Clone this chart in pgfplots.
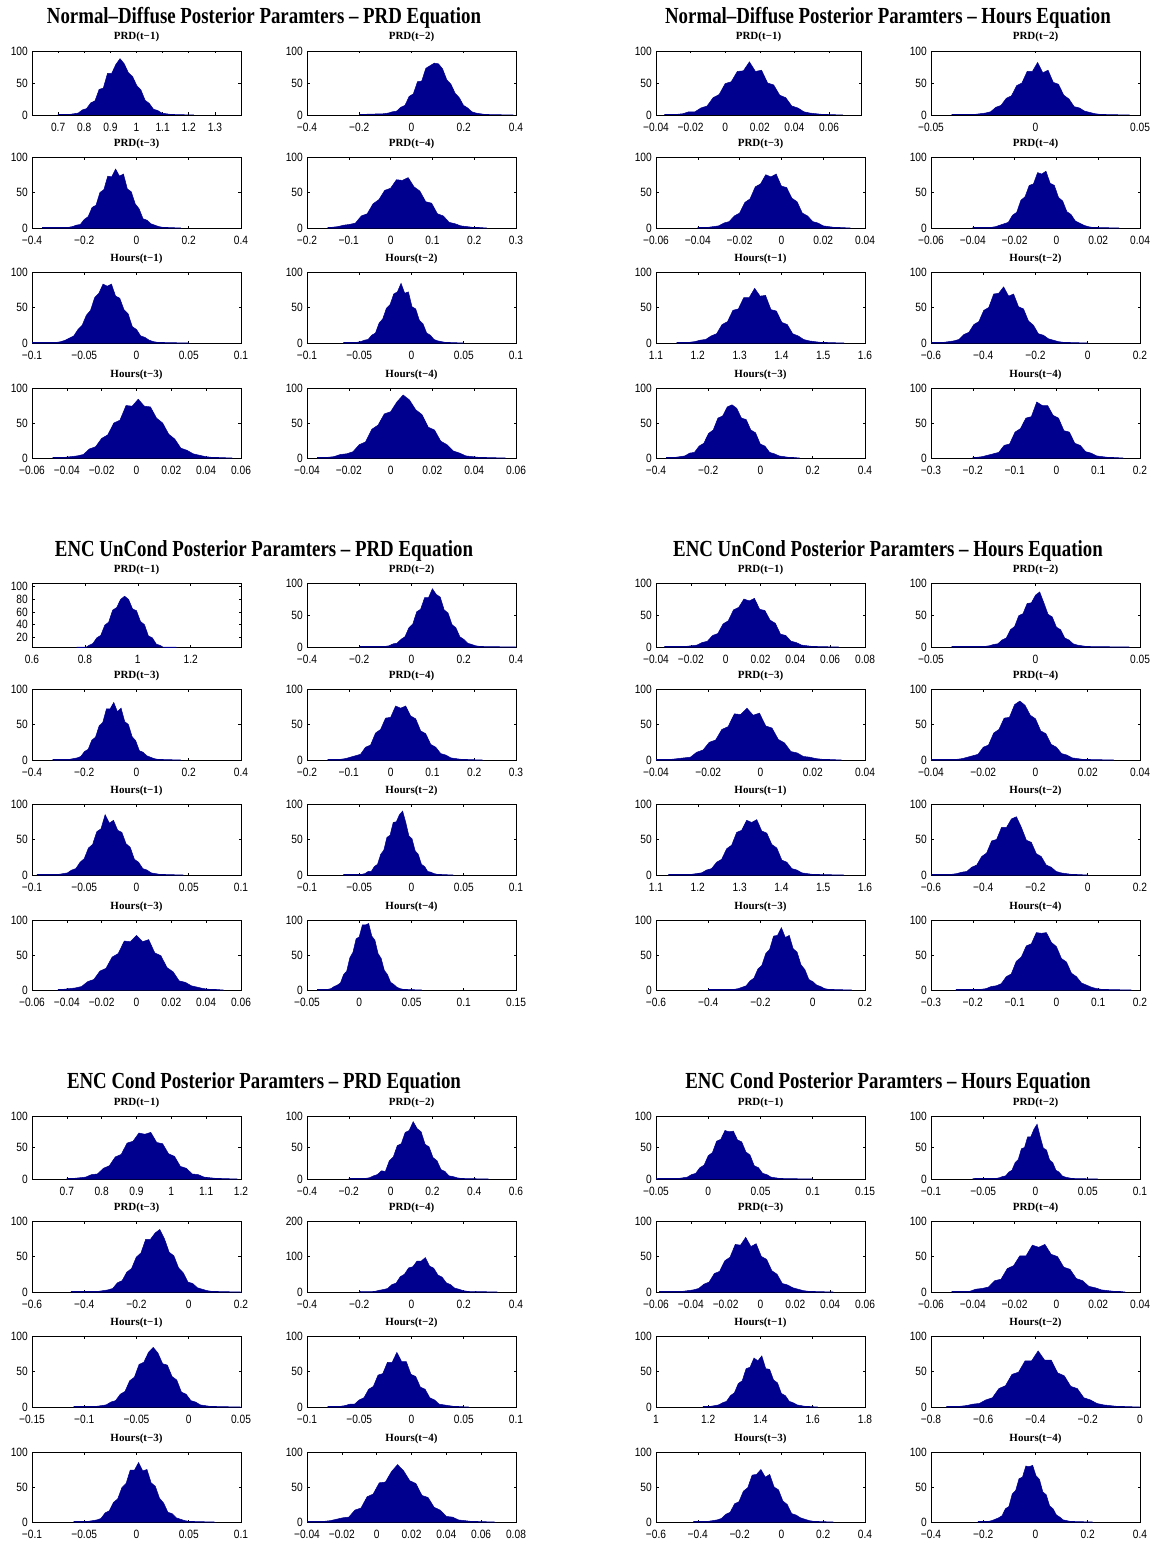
\documentclass[border=0pt]{standalone}
\usepackage{fontspec}
\usepackage{pgfplots}
\pgfplotsset{compat=1.18}
\setmainfont{Liberation Serif}
\newfontfamily\titfam[FakeStretch=0.82]{Liberation Serif}
\newfontfamily\subfam{Liberation Serif}
\newfontfamily\tickfam[FakeStretch=0.85]{Liberation Sans}
\newcommand{\titf}{\titfam\bfseries\fontsize{23}{27}\selectfont}
\newcommand{\subf}{\subfam\bfseries\fontsize{11}{13}\selectfont}
\newcommand{\tickf}{\tickfam\fontsize{12}{14}\selectfont}
\definecolor{hblue}{RGB}{0,0,143}
\pgfplotsset{
  hax/.style={scale only axis, anchor=south west, width=209pt, height=71pt,
    ymin=0, ymax=100, ytick={0,50,100}, yticklabels={0,50,100},
    scaled ticks=false, tick align=inside, major tick length=2.5pt,
    axis line style={line width=0.8pt}, tick style={line width=0.6pt, black},
    xticklabel style={font=\tickf, inner sep=0pt, yshift=-8pt},
    yticklabel style={font=\tickf, inner sep=0pt, xshift=-4pt},
    title style={font=\subf, at={(0.5,1)}, anchor=base, yshift=5pt}},
  hist/.style={sharp plot, fill=hblue, draw=hblue, line width=0.5pt, mark=none},
}
\begin{document}
\begin{tikzpicture}
\useasboundingbox (0pt,0pt) rectangle (1156pt,-1544pt);
% ---------- block titles
\node[anchor=base, font=\titf] at (264pt,-24pt) {Normal–Diffuse Posterior Paramters – PRD Equation};
\node[anchor=base, font=\titf] at (888pt,-24pt) {Normal–Diffuse Posterior Paramters – Hours Equation};
\node[anchor=base, font=\titf] at (264pt,-556pt) {ENC UnCond Posterior Paramters – PRD Equation};
\node[anchor=base, font=\titf] at (888pt,-556pt) {ENC UnCond Posterior Paramters – Hours Equation};
\node[anchor=base, font=\titf] at (264pt,-1088pt) {ENC Cond Posterior Paramters – PRD Equation};
\node[anchor=base, font=\titf] at (888pt,-1088pt) {ENC Cond Posterior Paramters – Hours Equation};

% ================= BLOCK 1 LEFT =================
\begin{axis}[hax, at={(32pt,-115pt)}, height=64pt, xmin=0.6, xmax=1.4,
  xtick={0.7,0.8,0.9,1,1.1,1.2,1.3}, xticklabels={0.7,0.8,0.9,1,1.1,1.2,1.3}, title={PRD(t−1)}]
\addplot[hist] coordinates {(0.70,0.8) (0.745,1) (0.761,2) (0.777,3) (0.793,8) (0.809,10) (0.825,19) (0.841,22) (0.857,40) (0.873,42) (0.889,65) (0.905,65) (0.921,79) (0.937,88) (0.953,80) (0.969,66) (0.985,60) (1.001,46) (1.017,39) (1.033,23) (1.049,18) (1.065,9) (1.081,7) (1.097,3) (1.113,2) (1.129,1) (1.145,0.8) (1.22,0)} \closedcycle;
\end{axis}
\begin{axis}[hax, at={(307pt,-115pt)}, height=64pt, xmin=-0.4, xmax=0.4,
  xtick={-0.4,-0.2,0,0.2,0.4}, xticklabels={−0.4,−0.2,0,0.2,0.4}, title={PRD(t−2)}]
\addplot[hist] coordinates {(-0.2,0.8) (-0.105,2) (-0.089,3) (-0.073,5) (-0.057,6) (-0.041,12) (-0.025,15) (-0.009,29) (0.007,33) (0.023,52) (0.039,53) (0.055,73) (0.071,77) (0.087,81) (0.103,80) (0.119,72) (0.135,55) (0.151,48) (0.167,34) (0.183,27) (0.199,15) (0.215,11) (0.231,5) (0.247,3) (0.263,2) (0.279,1) (0.295,0.8) (0.39,0)} \closedcycle;
\end{axis}
\begin{axis}[hax, at={(32pt,-228pt)}, xmin=-0.4, xmax=0.4,
  xtick={-0.4,-0.2,0,0.2,0.4}, xticklabels={−0.4,−0.2,0,0.2,0.4}, title={PRD(t−3)}]
\addplot[hist] coordinates {(-0.36,0.8) (-0.26,1) (-0.245,2) (-0.23,4) (-0.215,5) (-0.2,12) (-0.185,16) (-0.17,29) (-0.155,32) (-0.14,50) (-0.125,54) (-0.11,73) (-0.095,72) (-0.08,83) (-0.065,73) (-0.05,76) (-0.035,55) (-0.02,51) (-0.005,34) (0.01,27) (0.025,13) (0.04,11) (0.055,6) (0.07,4) (0.085,2) (0.1,1) (0.115,0.8) (0.17,0)} \closedcycle;
\end{axis}
\begin{axis}[hax, at={(307pt,-228pt)}, xmin=-0.2, xmax=0.3,
  xtick={-0.2,-0.1,0,0.1,0.2,0.3}, xticklabels={−0.2,−0.1,0,0.1,0.2,0.3}, title={PRD(t−4)}]
\addplot[hist] coordinates {(-0.15,0.8) (-0.14,1) (-0.126,2) (-0.112,4) (-0.098,5) (-0.084,7) (-0.07,17) (-0.056,20) (-0.042,34) (-0.028,40) (-0.014,53) (0,56) (0.014,68) (0.028,67) (0.042,71) (0.056,58) (0.07,52) (0.084,37) (0.098,35) (0.112,20) (0.126,17) (0.14,8) (0.154,6) (0.168,3) (0.182,2) (0.196,1) (0.21,0.8) (0.23,0)} \closedcycle;
\end{axis}
\begin{axis}[hax, at={(32pt,-343pt)}, xmin=-0.1, xmax=0.1,
  xtick={-0.1,-0.05,0,0.05,0.1}, xticklabels={−0.1,−0.05,0,0.05,0.1}, title={Hours(t−1)}]
\addplot[hist] coordinates {(-0.1,0.8) (-0.076,1) (-0.072,2) (-0.068,4) (-0.064,7) (-0.06,10) (-0.056,19) (-0.052,25) (-0.048,39) (-0.044,46) (-0.04,64) (-0.036,70) (-0.032,83) (-0.028,80) (-0.024,83) (-0.02,66) (-0.016,63) (-0.012,47) (-0.008,41) (-0.004,23) (0,19) (0.004,10) (0.008,8) (0.012,4) (0.016,2) (0.02,1) (0.024,0.8) (0.05,0)} \closedcycle;
\end{axis}
\begin{axis}[hax, at={(307pt,-343pt)}, xmin=-0.1, xmax=0.1,
  xtick={-0.1,-0.05,0,0.05,0.1}, xticklabels={−0.1,−0.05,0,0.05,0.1}, title={Hours(t−2)}]
\addplot[hist] coordinates {(-0.065,0.8) (-0.052,1) (-0.0485,2) (-0.045,4) (-0.0415,5) (-0.038,11) (-0.0345,14) (-0.031,28) (-0.0275,34) (-0.024,49) (-0.0205,54) (-0.017,69) (-0.0135,72) (-0.01,84) (-0.0065,70) (-0.003,72) (0.0005,51) (0.004,48) (0.0075,32) (0.011,27) (0.0145,14) (0.018,11) (0.0215,5) (0.025,3) (0.0285,2) (0.032,1) (0.0355,0.8) (0.05,0)} \closedcycle;
\end{axis}
\begin{axis}[hax, at={(32pt,-458pt)}, height=70pt, xmin=-0.06, xmax=0.06,
  xtick={-0.06,-0.04,-0.02,0,0.02,0.04,0.06}, xticklabels={−0.06,−0.04,−0.02,0,0.02,0.04,0.06}, title={Hours(t−3)}]
\addplot[hist] coordinates {(-0.048,0.8) (-0.041,1) (-0.0375,2) (-0.034,3) (-0.0305,5) (-0.027,13) (-0.0235,16) (-0.02,28) (-0.0165,33) (-0.013,50) (-0.0095,54) (-0.006,75) (-0.0025,74) (0.001,84) (0.0045,74) (0.008,73) (0.0115,57) (0.015,50) (0.0185,34) (0.022,27) (0.0255,14) (0.029,11) (0.0325,6) (0.036,4) (0.0395,2) (0.043,1) (0.0465,0.8) (0.055,0)} \closedcycle;
\end{axis}
\begin{axis}[hax, at={(307pt,-458pt)}, height=70pt, xmin=-0.04, xmax=0.06,
  xtick={-0.04,-0.02,0,0.02,0.04,0.06}, xticklabels={−0.04,−0.02,0,0.02,0.04,0.06}, title={Hours(t−4)}]
\addplot[hist] coordinates {(-0.035,0.8) (-0.03,1) (-0.027,2) (-0.024,5) (-0.021,6) (-0.018,9) (-0.015,19) (-0.012,23) (-0.009,41) (-0.006,47) (-0.003,63) (0,66) (0.003,80) (0.006,90) (0.009,83) (0.012,69) (0.015,62) (0.018,44) (0.021,40) (0.024,24) (0.027,19) (0.03,10) (0.033,7) (0.036,3) (0.039,2) (0.042,1) (0.045,0.8) (0.055,0)} \closedcycle;
\end{axis}

% ================= BLOCK 1 RIGHT =================
\begin{axis}[hax, at={(656pt,-115pt)}, height=64pt, width=205pt, xmin=-0.04, xmax=0.0785,
  xtick={-0.04,-0.02,0,0.02,0.04,0.06}, xticklabels={−0.04,−0.02,0,0.02,0.04,0.06}, title={PRD(t−1)}]
\addplot[hist] coordinates {(-0.035,0.8) (-0.028,1) (-0.0245,2) (-0.021,5) (-0.0175,5) (-0.014,11) (-0.0105,14) (-0.007,27) (-0.0035,32) (0,49) (0.0035,52) (0.007,68) (0.0105,69) (0.014,83) (0.0175,68) (0.021,70) (0.0245,50) (0.028,47) (0.0315,31) (0.035,27) (0.0385,14) (0.042,11) (0.0455,5) (0.049,3) (0.0525,2) (0.056,1) (0.0595,0.8) (0.068,0)} \closedcycle;
\end{axis}
\begin{axis}[hax, at={(931pt,-115pt)}, height=64pt, xmin=-0.05, xmax=0.05,
  xtick={-0.05,0,0.05}, xticklabels={−0.05,0,0.05}, title={PRD(t−2)}]
\addplot[hist] coordinates {(-0.04,0.8) (-0.029,1) (-0.0265,2) (-0.024,3) (-0.0215,5) (-0.019,12) (-0.0165,15) (-0.014,26) (-0.0115,30) (-0.009,46) (-0.0065,50) (-0.004,68) (-0.0015,68) (0.001,82) (0.0035,66) (0.006,70) (0.0085,51) (0.011,48) (0.0135,31) (0.016,25) (0.0185,13) (0.021,11) (0.0235,6) (0.026,4) (0.0285,2) (0.031,1) (0.0335,0.8) (0.045,0)} \closedcycle;
\end{axis}
\begin{axis}[hax, at={(656pt,-228pt)}, xmin=-0.06, xmax=0.04,
  xtick={-0.06,-0.04,-0.02,0,0.02,0.04}, xticklabels={−0.06,−0.04,−0.02,0,0.02,0.04}, title={PRD(t−3)}]
\addplot[hist] coordinates {(-0.04,0.8) (-0.035,1) (-0.0325,2) (-0.03,3) (-0.0275,7) (-0.025,9) (-0.0225,17) (-0.02,21) (-0.0175,36) (-0.015,41) (-0.0125,58) (-0.01,62) (-0.0075,75) (-0.005,72) (-0.0025,76) (0,59) (0.0025,57) (0.005,42) (0.0075,37) (0.01,21) (0.0125,17) (0.015,9) (0.0175,7) (0.02,3) (0.0225,2) (0.025,1) (0.0275,0.8) (0.033,0)} \closedcycle;
\end{axis}
\begin{axis}[hax, at={(931pt,-228pt)}, xmin=-0.06, xmax=0.04,
  xtick={-0.06,-0.04,-0.02,0,0.02,0.04}, xticklabels={−0.06,−0.04,−0.02,0,0.02,0.04}, title={PRD(t−4)}]
\addplot[hist] coordinates {(-0.04,0.8) (-0.031,1) (-0.029,2) (-0.027,4) (-0.025,6) (-0.023,8) (-0.021,18) (-0.019,22) (-0.017,39) (-0.015,44) (-0.013,60) (-0.011,62) (-0.009,78) (-0.007,76) (-0.005,80) (-0.003,63) (-0.001,60) (0.001,43) (0.003,38) (0.005,23) (0.007,19) (0.009,10) (0.011,7) (0.013,4) (0.015,2) (0.017,1) (0.019,0.8) (0.03,0)} \closedcycle;
\end{axis}
\begin{axis}[hax, at={(656pt,-343pt)}, xmin=1.1, xmax=1.6,
  xtick={1.1,1.2,1.3,1.4,1.5,1.6}, xticklabels={1.1,1.2,1.3,1.4,1.5,1.6}, title={Hours(t−1)}]
\addplot[hist] coordinates {(1.15,0.8) (1.18,1) (1.193,2) (1.206,4) (1.219,5) (1.232,10) (1.245,13) (1.258,26) (1.271,30) (1.284,46) (1.297,48) (1.31,64) (1.323,64) (1.336,77) (1.349,66) (1.362,67) (1.375,47) (1.388,45) (1.401,29) (1.414,26) (1.427,13) (1.44,10) (1.453,5) (1.466,3) (1.479,2) (1.492,1) (1.505,0.8) (1.55,0)} \closedcycle;
\end{axis}
\begin{axis}[hax, at={(931pt,-343pt)}, xmin=-0.6, xmax=0.2,
  xtick={-0.6,-0.4,-0.2,0,0.2}, xticklabels={−0.6,−0.4,−0.2,0,0.2}, title={Hours(t−2)}]
\addplot[hist] coordinates {(-0.6,0.8) (-0.55,1) (-0.531,2) (-0.512,3) (-0.493,5) (-0.474,12) (-0.455,15) (-0.436,26) (-0.417,30) (-0.398,46) (-0.379,50) (-0.36,69) (-0.341,70) (-0.322,79) (-0.303,66) (-0.284,69) (-0.265,51) (-0.246,48) (-0.227,31) (-0.208,25) (-0.189,13) (-0.17,11) (-0.151,6) (-0.132,4) (-0.113,2) (-0.094,1) (-0.075,0.8) (0,0)} \closedcycle;
\end{axis}
\begin{axis}[hax, at={(656pt,-458pt)}, height=70pt, xmin=-0.4, xmax=0.4,
  xtick={-0.4,-0.2,0,0.2,0.4}, xticklabels={−0.4,−0.2,0,0.2,0.4}, title={Hours(t−3)}]
\addplot[hist] coordinates {(-0.36,0.8) (-0.325,1) (-0.307,2) (-0.289,3) (-0.271,7) (-0.253,8) (-0.235,17) (-0.217,21) (-0.199,35) (-0.181,40) (-0.163,57) (-0.145,60) (-0.127,73) (-0.109,76) (-0.091,71) (-0.073,57) (-0.055,55) (-0.037,40) (-0.019,36) (-0.001,20) (0.017,17) (0.035,8) (0.053,6) (0.071,3) (0.089,2) (0.107,1) (0.125,0.8) (0.15,0)} \closedcycle;
\end{axis}
\begin{axis}[hax, at={(931pt,-458pt)}, height=70pt, xmin=-0.3, xmax=0.2,
  xtick={-0.3,-0.2,-0.1,0,0.1,0.2}, xticklabels={−0.3,−0.2,−0.1,0,0.1,0.2}, title={Hours(t−4)}]
\addplot[hist] coordinates {(-0.2,0.8) (-0.19,1) (-0.177,2) (-0.164,4) (-0.151,6) (-0.138,8) (-0.125,18) (-0.112,20) (-0.099,37) (-0.086,42) (-0.073,57) (-0.06,59) (-0.047,80) (-0.034,75) (-0.021,75) (-0.008,61) (0.005,57) (0.018,39) (0.031,37) (0.044,21) (0.057,18) (0.07,9) (0.083,7) (0.096,3) (0.109,2) (0.122,1) (0.135,0.8) (0.16,0)} \closedcycle;
\end{axis}

% ================= BLOCK 2 LEFT =================
\begin{axis}[hax, at={(32pt,-647pt)}, height=64pt, xmin=0.6, xmax=1.39, ymin=4.5, ymax=106,
  ytick={20,40,60,80,100}, yticklabels={20,40,60,80,100},
  xtick={0.6,0.8,1,1.2}, xticklabels={0.6,0.8,1,1.2}, title={PRD(t−1)}]
\addplot[hist] coordinates {(0.77,1) (0.785,2) (0.8,3) (0.815,7) (0.83,10) (0.845,19) (0.86,23) (0.875,39) (0.89,44) (0.905,63) (0.92,67) (0.935,80) (0.95,85) (0.965,80) (0.98,65) (0.995,62) (1.01,45) (1.025,40) (1.04,22) (1.055,19) (1.07,9) (1.085,7) (1.1,3) (1.115,2) (1.13,1) (1.145,0)} \closedcycle;
\end{axis}
\begin{axis}[hax, at={(307pt,-647pt)}, height=64pt, xmin=-0.4, xmax=0.4,
  xtick={-0.4,-0.2,0,0.2,0.4}, xticklabels={−0.4,−0.2,0,0.2,0.4}, title={PRD(t−2)}]
\addplot[hist] coordinates {(-0.2,0.8) (-0.1,1) (-0.085,2) (-0.07,5) (-0.055,6) (-0.04,12) (-0.025,16) (-0.01,30) (0.005,36) (0.02,55) (0.035,59) (0.05,77) (0.065,77) (0.08,91) (0.095,82) (0.11,78) (0.125,58) (0.14,53) (0.155,35) (0.17,30) (0.185,16) (0.2,12) (0.215,6) (0.23,4) (0.245,2) (0.26,1) (0.275,0.8) (0.4,0)} \closedcycle;
\end{axis}
\begin{axis}[hax, at={(32pt,-760pt)}, xmin=-0.4, xmax=0.4,
  xtick={-0.4,-0.2,0,0.2,0.4}, xticklabels={−0.4,−0.2,0,0.2,0.4}, title={PRD(t−3)}]
\addplot[hist] coordinates {(-0.32,0.8) (-0.255,1) (-0.241,2) (-0.227,3) (-0.213,5) (-0.199,12) (-0.185,15) (-0.171,28) (-0.157,32) (-0.143,48) (-0.129,53) (-0.115,72) (-0.101,72) (-0.087,81) (-0.073,68) (-0.059,73) (-0.045,54) (-0.031,50) (-0.017,33) (-0.003,27) (0.011,13) (0.025,11) (0.039,6) (0.053,4) (0.067,2) (0.081,1) (0.095,0.8) (0.17,0)} \closedcycle;
\end{axis}
\begin{axis}[hax, at={(307pt,-760pt)}, xmin=-0.2, xmax=0.3,
  xtick={-0.2,-0.1,0,0.1,0.2,0.3}, xticklabels={−0.2,−0.1,0,0.1,0.2,0.3}, title={PRD(t−4)}]
\addplot[hist] coordinates {(-0.15,0.8) (-0.12,1) (-0.108,2) (-0.096,4) (-0.084,6) (-0.072,8) (-0.06,18) (-0.048,21) (-0.036,38) (-0.024,43) (-0.012,59) (0,60) (0.012,76) (0.024,73) (0.036,76) (0.048,62) (0.06,58) (0.072,41) (0.084,37) (0.096,22) (0.108,18) (0.12,9) (0.132,7) (0.144,3) (0.156,2) (0.168,1) (0.18,0.8) (0.22,0)} \closedcycle;
\end{axis}
\begin{axis}[hax, at={(32pt,-875pt)}, xmin=-0.1, xmax=0.1,
  xtick={-0.1,-0.05,0,0.05,0.1}, xticklabels={−0.1,−0.05,0,0.05,0.1}, title={Hours(t−1)}]
\addplot[hist] coordinates {(-0.095,0.8) (-0.074,1) (-0.07,2) (-0.066,3) (-0.062,7) (-0.058,9) (-0.054,18) (-0.05,23) (-0.046,38) (-0.042,43) (-0.038,61) (-0.034,65) (-0.03,85) (-0.026,73) (-0.022,77) (-0.018,63) (-0.014,60) (-0.01,44) (-0.006,39) (-0.002,22) (0.002,18) (0.006,9) (0.01,7) (0.014,3) (0.018,2) (0.022,1) (0.026,0.8) (0.045,0)} \closedcycle;
\end{axis}
\begin{axis}[hax, at={(307pt,-875pt)}, xmin=-0.1, xmax=0.1,
  xtick={-0.1,-0.05,0,0.05,0.1}, xticklabels={−0.1,−0.05,0,0.05,0.1}, title={Hours(t−2)}]
\addplot[hist] coordinates {(-0.065,0.8) (-0.0475,1) (-0.0445,2) (-0.0415,5) (-0.0385,5) (-0.0355,12) (-0.0325,15) (-0.0295,29) (-0.0265,35) (-0.0235,53) (-0.0205,56) (-0.0175,74) (-0.0145,75) (-0.0115,85) (-0.0085,90) (-0.0055,74) (-0.0025,55) (0.0005,51) (0.0035,34) (0.0065,29) (0.0095,15) (0.0125,12) (0.0155,5) (0.0185,4) (0.0215,2) (0.0245,1) (0.0275,0.8) (0.04,0)} \closedcycle;
\end{axis}
\begin{axis}[hax, at={(32pt,-990pt)}, height=70pt, xmin=-0.06, xmax=0.06,
  xtick={-0.06,-0.04,-0.02,0,0.02,0.04,0.06}, xticklabels={−0.06,−0.04,−0.02,0,0.02,0.04,0.06}, title={Hours(t−3)}]
\addplot[hist] coordinates {(-0.045,0.8) (-0.042,1) (-0.0385,2) (-0.035,3) (-0.0315,5) (-0.028,12) (-0.0245,15) (-0.021,27) (-0.0175,31) (-0.014,47) (-0.0105,52) (-0.007,70) (-0.0035,69) (0,78) (0.0035,69) (0.007,72) (0.0105,53) (0.014,49) (0.0175,32) (0.021,26) (0.0245,13) (0.028,11) (0.0315,6) (0.035,4) (0.0385,2) (0.042,1) (0.0455,0.8) (0.05,0)} \closedcycle;
\end{axis}
\begin{axis}[hax, at={(307pt,-990pt)}, height=70pt, xmin=-0.05, xmax=0.15,
  xtick={-0.05,0,0.05,0.1,0.15}, xticklabels={−0.05,0,0.05,0.1,0.15}, title={Hours(t−4)}]
\addplot[hist] coordinates {(-0.04,0.8) (-0.03,1) (-0.027,2) (-0.024,5) (-0.021,7) (-0.018,10) (-0.015,22) (-0.012,27) (-0.009,46) (-0.006,54) (-0.003,73) (0,76) (0.003,93) (0.006,93) (0.009,95) (0.012,77) (0.015,71) (0.018,52) (0.021,45) (0.024,28) (0.027,22) (0.03,11) (0.033,8) (0.036,4) (0.039,2) (0.042,1) (0.045,0.8) (0.06,0)} \closedcycle;
\end{axis}

% ================= BLOCK 2 RIGHT =================
\begin{axis}[hax, at={(656pt,-647pt)}, height=64pt, xmin=-0.04, xmax=0.08,
  xtick={-0.04,-0.02,0,0.02,0.04,0.06,0.08}, xticklabels={−0.04,−0.02,0,0.02,0.04,0.06,0.08}, title={PRD(t−1)}]
\addplot[hist] coordinates {(-0.035,0.8) (-0.0225,1) (-0.0195,2) (-0.0165,3) (-0.0135,7) (-0.0105,9) (-0.0075,18) (-0.0045,21) (-0.0015,36) (0.0015,41) (0.0045,58) (0.0075,62) (0.0105,75) (0.0135,72) (0.0165,76) (0.0195,59) (0.0225,57) (0.0255,42) (0.0285,37) (0.0315,20) (0.0345,18) (0.0375,9) (0.0405,7) (0.0435,3) (0.0465,2) (0.0495,1) (0.0525,0.8) (0.065,0)} \closedcycle;
\end{axis}
\begin{axis}[hax, at={(931pt,-647pt)}, height=64pt, xmin=-0.05, xmax=0.05,
  xtick={-0.05,0,0.05}, xticklabels={−0.05,0,0.05}, title={PRD(t−2)}]
\addplot[hist] coordinates {(-0.04,0.8) (-0.024,1) (-0.022,2) (-0.02,4) (-0.018,5) (-0.016,11) (-0.014,14) (-0.012,27) (-0.01,32) (-0.008,49) (-0.006,52) (-0.004,68) (-0.002,69) (0,81) (0.002,86) (0.004,69) (0.006,51) (0.008,47) (0.01,31) (0.012,27) (0.014,14) (0.016,11) (0.018,5) (0.02,3) (0.022,2) (0.024,1) (0.026,0.8) (0.045,0)} \closedcycle;
\end{axis}
\begin{axis}[hax, at={(656pt,-760pt)}, xmin=-0.04, xmax=0.04,
  xtick={-0.04,-0.02,0,0.02,0.04}, xticklabels={−0.04,−0.02,0,0.02,0.04}, title={PRD(t−3)}]
\addplot[hist] coordinates {(-0.04,0.8) (-0.034,1) (-0.0316,2) (-0.0292,3) (-0.0268,4) (-0.0244,11) (-0.022,14) (-0.0196,25) (-0.0172,28) (-0.0148,43) (-0.0124,47) (-0.01,65) (-0.0076,64) (-0.0052,73) (-0.0028,63) (-0.0004,66) (0.002,48) (0.0044,45) (0.0068,29) (0.0092,24) (0.0116,12) (0.014,10) (0.0164,5) (0.0188,4) (0.0212,2) (0.0236,1) (0.026,0.8) (0.031,0)} \closedcycle;
\end{axis}
\begin{axis}[hax, at={(931pt,-760pt)}, xmin=-0.04, xmax=0.04,
  xtick={-0.04,-0.02,0,0.02,0.04}, xticklabels={−0.04,−0.02,0,0.02,0.04}, title={PRD(t−4)}]
\addplot[hist] coordinates {(-0.04,0.8) (-0.03,1) (-0.028,2) (-0.026,4) (-0.024,6) (-0.022,8) (-0.02,18) (-0.018,21) (-0.016,38) (-0.014,43) (-0.012,59) (-0.01,60) (-0.008,78) (-0.006,83) (-0.004,77) (-0.002,63) (0,58) (0.002,41) (0.004,37) (0.006,22) (0.008,18) (0.01,9) (0.012,7) (0.014,3) (0.016,2) (0.018,1) (0.02,0.8) (0.03,0)} \closedcycle;
\end{axis}
\begin{axis}[hax, at={(656pt,-875pt)}, xmin=1.1, xmax=1.6,
  xtick={1.1,1.2,1.3,1.4,1.5,1.6}, xticklabels={1.1,1.2,1.3,1.4,1.5,1.6}, title={Hours(t−1)}]
\addplot[hist] coordinates {(1.13,0.8) (1.185,1) (1.197,2) (1.209,3) (1.221,7) (1.233,9) (1.245,18) (1.257,22) (1.269,37) (1.281,42) (1.293,60) (1.305,63) (1.317,77) (1.329,74) (1.341,78) (1.353,62) (1.365,59) (1.377,43) (1.389,38) (1.401,21) (1.413,18) (1.425,9) (1.437,7) (1.449,3) (1.461,2) (1.473,1) (1.485,0.8) (1.55,0)} \closedcycle;
\end{axis}
\begin{axis}[hax, at={(931pt,-875pt)}, xmin=-0.6, xmax=0.2,
  xtick={-0.6,-0.4,-0.2,0,0.2}, xticklabels={−0.6,−0.4,−0.2,0,0.2}, title={Hours(t−2)}]
\addplot[hist] coordinates {(-0.6,0.8) (-0.52,1) (-0.501,2) (-0.482,4) (-0.463,5) (-0.444,11) (-0.425,14) (-0.406,26) (-0.387,31) (-0.368,48) (-0.349,50) (-0.33,67) (-0.311,67) (-0.292,79) (-0.273,82) (-0.254,67) (-0.235,49) (-0.216,46) (-0.197,30) (-0.178,26) (-0.159,14) (-0.14,11) (-0.121,5) (-0.102,3) (-0.083,2) (-0.064,1) (-0.045,0.8) (0,0)} \closedcycle;
\end{axis}
\begin{axis}[hax, at={(656pt,-990pt)}, height=70pt, xmin=-0.6, xmax=0.2,
  xtick={-0.6,-0.4,-0.2,0,0.2}, xticklabels={−0.6,−0.4,−0.2,0,0.2}, title={Hours(t−3)}]
\addplot[hist] coordinates {(-0.4,0.8) (-0.3,1) (-0.285,2) (-0.27,4) (-0.255,6) (-0.24,13) (-0.225,17) (-0.21,30) (-0.195,35) (-0.18,52) (-0.165,58) (-0.15,77) (-0.135,78) (-0.12,89) (-0.105,75) (-0.09,78) (-0.075,59) (-0.06,54) (-0.045,36) (-0.03,29) (-0.015,15) (0,12) (0.015,7) (0.03,5) (0.045,2) (0.06,1) (0.075,0.8) (0.15,0)} \closedcycle;
\end{axis}
\begin{axis}[hax, at={(931pt,-990pt)}, height=70pt, xmin=-0.3, xmax=0.2,
  xtick={-0.3,-0.2,-0.1,0,0.1,0.2}, xticklabels={−0.3,−0.2,−0.1,0,0.1,0.2}, title={Hours(t−4)}]
\addplot[hist] coordinates {(-0.24,0.8) (-0.18,1) (-0.168,2) (-0.156,5) (-0.144,6) (-0.132,9) (-0.12,19) (-0.108,23) (-0.096,41) (-0.084,47) (-0.072,63) (-0.06,66) (-0.048,82) (-0.036,81) (-0.024,82) (-0.012,68) (0,62) (0.012,45) (0.024,40) (0.036,24) (0.048,19) (0.06,10) (0.072,7) (0.084,4) (0.096,2) (0.108,1) (0.12,0.8) (0.18,0)} \closedcycle;
\end{axis}

% ================= BLOCK 3 LEFT =================
\begin{axis}[hax, at={(32pt,-1179pt)}, height=63pt, xmin=0.6, xmax=1.2,
  xtick={0.7,0.8,0.9,1,1.1,1.2}, xticklabels={0.7,0.8,0.9,1,1.1,1.2}, title={PRD(t−1)}]
\addplot[hist] coordinates {(0.7,0.8) (0.72,1) (0.737,2) (0.754,3) (0.771,7) (0.788,8) (0.805,17) (0.822,21) (0.839,35) (0.856,39) (0.873,57) (0.89,60) (0.907,73) (0.924,71) (0.941,74) (0.958,58) (0.975,56) (0.992,40) (1.009,36) (1.026,20) (1.043,17) (1.06,8) (1.077,7) (1.094,3) (1.111,2) (1.128,1) (1.145,0.8) (1.19,0)} \closedcycle;
\end{axis}
\begin{axis}[hax, at={(307pt,-1179pt)}, height=63pt, xmin=-0.4, xmax=0.6,
  xtick={-0.4,-0.2,0,0.2,0.4,0.6}, xticklabels={−0.4,−0.2,0,0.2,0.4,0.6}, title={PRD(t−2)}]
\addplot[hist] coordinates {(-0.2,0.8) (-0.12,1) (-0.101,2) (-0.082,5) (-0.063,7) (-0.044,13) (-0.025,12) (-0.006,29) (0.013,35) (0.032,53) (0.051,56) (0.07,74) (0.089,77) (0.108,91) (0.127,80) (0.146,75) (0.165,55) (0.184,51) (0.203,34) (0.222,29) (0.241,15) (0.26,12) (0.279,5) (0.298,4) (0.317,2) (0.336,1) (0.355,0.8) (0.47,0)} \closedcycle;
\end{axis}
\begin{axis}[hax, at={(32pt,-1292pt)}, xmin=-0.6, xmax=0.2,
  xtick={-0.6,-0.4,-0.2,0,0.2}, xticklabels={−0.6,−0.4,−0.2,0,0.2}, title={PRD(t−3)}]
\addplot[hist] coordinates {(-0.45,0.8) (-0.345,1) (-0.327,2) (-0.309,3) (-0.291,5) (-0.273,13) (-0.255,16) (-0.237,28) (-0.219,33) (-0.201,49) (-0.183,55) (-0.165,74) (-0.147,74) (-0.129,83) (-0.111,88) (-0.093,75) (-0.075,56) (-0.057,51) (-0.039,34) (-0.021,27) (-0.003,14) (0.015,12) (0.033,6) (0.051,4) (0.069,2) (0.087,1) (0.105,0.8) (0.2,0)} \closedcycle;
\end{axis}
\begin{axis}[hax, at={(307pt,-1292pt)}, xmin=-0.4, xmax=0.4, ymax=200,
  ytick={0,100,200}, yticklabels={0,100,200},
  xtick={-0.4,-0.2,0,0.2,0.4}, xticklabels={−0.4,−0.2,0,0.2,0.4}, title={PRD(t−4)}]
\addplot[hist] coordinates {(-0.2,1.5) (-0.155,1) (-0.139,2) (-0.123,5) (-0.107,7) (-0.091,10) (-0.075,21) (-0.059,25) (-0.043,43) (-0.027,50) (-0.011,68) (0.005,71) (0.021,87) (0.037,87) (0.053,97) (0.069,73) (0.085,67) (0.101,48) (0.117,42) (0.133,26) (0.149,21) (0.165,11) (0.181,8) (0.197,4) (0.213,2) (0.229,1) (0.245,1.5) (0.33,0)} \closedcycle;
\end{axis}
\begin{axis}[hax, at={(32pt,-1407pt)}, xmin=-0.15, xmax=0.05,
  xtick={-0.15,-0.1,-0.05,0,0.05}, xticklabels={−0.15,−0.1,−0.05,0,0.05}, title={Hours(t−1)}]
\addplot[hist] coordinates {(-0.11,0.8) (-0.088,1) (-0.0835,2) (-0.079,3) (-0.0745,7) (-0.07,9) (-0.0655,18) (-0.061,22) (-0.0565,37) (-0.052,42) (-0.0475,60) (-0.043,63) (-0.0385,77) (-0.034,84) (-0.0295,76) (-0.025,61) (-0.0205,59) (-0.016,43) (-0.0115,38) (-0.007,21) (-0.0025,18) (0.002,9) (0.0065,7) (0.011,3) (0.0155,2) (0.02,1) (0.0245,0.8) (0.05,0)} \closedcycle;
\end{axis}
\begin{axis}[hax, at={(307pt,-1407pt)}, xmin=-0.1, xmax=0.1,
  xtick={-0.1,-0.05,0,0.05,0.1}, xticklabels={−0.1,−0.05,0,0.05,0.1}, title={Hours(t−2)}]
\addplot[hist] coordinates {(-0.08,0.8) (-0.068,1) (-0.0635,2) (-0.059,4) (-0.0545,4) (-0.05,10) (-0.0455,13) (-0.041,25) (-0.0365,29) (-0.032,45) (-0.0275,47) (-0.023,63) (-0.0185,63) (-0.014,77) (-0.0095,64) (-0.005,64) (-0.0005,46) (0.004,43) (0.0085,28) (0.013,25) (0.0175,13) (0.022,10) (0.0265,4) (0.031,3) (0.0355,2) (0.04,1) (0.0445,0.8) (0.055,0)} \closedcycle;
\end{axis}
\begin{axis}[hax, at={(32pt,-1522pt)}, height=70pt, xmin=-0.1, xmax=0.1,
  xtick={-0.1,-0.05,0,0.05,0.1}, xticklabels={−0.1,−0.05,0,0.05,0.1}, title={Hours(t−3)}]
\addplot[hist] coordinates {(-0.06,0.8) (-0.046,1) (-0.042,2) (-0.038,3) (-0.034,5) (-0.03,13) (-0.026,16) (-0.022,28) (-0.018,33) (-0.014,49) (-0.01,55) (-0.006,74) (-0.002,74) (0.002,85) (0.006,73) (0.01,75) (0.014,56) (0.018,51) (0.022,34) (0.026,27) (0.03,14) (0.034,12) (0.038,6) (0.042,4) (0.046,2) (0.05,1) (0.054,0.8) (0.075,0)} \closedcycle;
\end{axis}
\begin{axis}[hax, at={(307pt,-1522pt)}, height=70pt, xmin=-0.04, xmax=0.08,
  xtick={-0.04,-0.02,0,0.02,0.04,0.06,0.08}, xticklabels={−0.04,−0.02,0,0.02,0.04,0.06,0.08}, title={Hours(t−4)}]
\addplot[hist] coordinates {(-0.04,0.8) (-0.03,1) (-0.0265,2) (-0.023,4) (-0.0195,6) (-0.016,7) (-0.0125,17) (-0.009,20) (-0.0055,36) (-0.002,40) (0.0015,56) (0.005,57) (0.0085,72) (0.012,82) (0.0155,73) (0.019,59) (0.0225,55) (0.026,38) (0.0295,35) (0.033,21) (0.0365,17) (0.04,8) (0.0435,7) (0.047,3) (0.0505,2) (0.054,1) (0.0575,0.8) (0.068,0)} \closedcycle;
\end{axis}

% ================= BLOCK 3 RIGHT =================
\begin{axis}[hax, at={(656pt,-1179pt)}, height=63pt, xmin=-0.05, xmax=0.15,
  xtick={-0.05,0,0.05,0.1,0.15}, xticklabels={−0.05,0,0.05,0.1,0.15}, title={PRD(t−1)}]
\addplot[hist] coordinates {(-0.05,0.8) (-0.028,1) (-0.024,2) (-0.02,3) (-0.016,7) (-0.012,9) (-0.008,18) (-0.004,22) (0,37) (0.004,42) (0.008,60) (0.012,63) (0.016,77) (0.02,75) (0.024,76) (0.028,62) (0.032,59) (0.036,43) (0.04,38) (0.044,21) (0.048,18) (0.052,9) (0.056,7) (0.06,3) (0.064,2) (0.068,1) (0.072,0.8) (0.1,0)} \closedcycle;
\end{axis}
\begin{axis}[hax, at={(931pt,-1179pt)}, height=63pt, xmin=-0.1, xmax=0.1,
  xtick={-0.1,-0.05,0,0.05,0.1}, xticklabels={−0.1,−0.05,0,0.05,0.1}, title={PRD(t−2)}]
\addplot[hist] coordinates {(-0.06,0.8) (-0.0375,1) (-0.0345,2) (-0.0315,4) (-0.0285,5) (-0.0255,11) (-0.0225,14) (-0.0195,26) (-0.0165,31) (-0.0135,48) (-0.0105,50) (-0.0075,67) (-0.0045,67) (-0.0015,79) (0.0015,87) (0.0045,67) (0.0075,49) (0.0105,46) (0.0135,30) (0.0165,26) (0.0195,14) (0.0225,11) (0.0255,5) (0.0285,3) (0.0315,2) (0.0345,1) (0.0375,0.8) (0.06,0)} \closedcycle;
\end{axis}
\begin{axis}[hax, at={(656pt,-1292pt)}, xmin=-0.06, xmax=0.06,
  xtick={-0.06,-0.04,-0.02,0,0.02,0.04,0.06}, xticklabels={−0.06,−0.04,−0.02,0,0.02,0.04,0.06}, title={PRD(t−3)}]
\addplot[hist] coordinates {(-0.058,0.8) (-0.0445,1) (-0.0415,2) (-0.0385,3) (-0.0355,5) (-0.0325,11) (-0.0295,14) (-0.0265,26) (-0.0235,29) (-0.0205,44) (-0.0175,49) (-0.0145,67) (-0.0115,66) (-0.0085,77) (-0.0055,64) (-0.0025,68) (0.0005,50) (0.0035,46) (0.0065,30) (0.0095,25) (0.0125,12) (0.0155,10) (0.0185,6) (0.0215,4) (0.0245,2) (0.0275,1) (0.0305,0.8) (0.042,0)} \closedcycle;
\end{axis}
\begin{axis}[hax, at={(931pt,-1292pt)}, xmin=-0.06, xmax=0.04,
  xtick={-0.06,-0.04,-0.02,0,0.02,0.04}, xticklabels={−0.06,−0.04,−0.02,0,0.02,0.04}, title={PRD(t−4)}]
\addplot[hist] coordinates {(-0.05,0.8) (-0.0445,1) (-0.0415,1) (-0.0385,4) (-0.0355,5) (-0.0325,7) (-0.0295,16) (-0.0265,18) (-0.0235,33) (-0.0205,37) (-0.0175,51) (-0.0145,51) (-0.0115,66) (-0.0085,63) (-0.0055,67) (-0.0025,53) (0.0005,50) (0.0035,35) (0.0065,32) (0.0095,19) (0.0125,16) (0.0155,8) (0.0185,6) (0.0215,3) (0.0245,2) (0.0275,1) (0.0305,0.8) (0.033,0)} \closedcycle;
\end{axis}
\begin{axis}[hax, at={(656pt,-1407pt)}, xmin=1, xmax=1.8,
  xtick={1,1.2,1.4,1.6,1.8}, xticklabels={1,1.2,1.4,1.6,1.8}, title={Hours(t−1)}]
\addplot[hist] coordinates {(1.18,0.8) (1.21,1) (1.225,2) (1.24,3) (1.255,6) (1.27,8) (1.285,16) (1.3,20) (1.315,33) (1.33,37) (1.345,54) (1.36,56) (1.375,69) (1.39,65) (1.405,72) (1.42,54) (1.435,53) (1.45,38) (1.465,34) (1.48,19) (1.495,16) (1.51,8) (1.525,6) (1.54,3) (1.555,2) (1.57,1) (1.585,0.8) (1.62,0)} \closedcycle;
\end{axis}
\begin{axis}[hax, at={(931pt,-1407pt)}, xmin=-0.8, xmax=0,
  xtick={-0.8,-0.6,-0.4,-0.2,0}, xticklabels={−0.8,−0.6,−0.4,−0.2,0}, title={Hours(t−2)}]
\addplot[hist] coordinates {(-0.74,0.8) (-0.69,1) (-0.665,2) (-0.64,4) (-0.615,5) (-0.59,10) (-0.565,13) (-0.54,26) (-0.515,30) (-0.49,46) (-0.465,49) (-0.44,65) (-0.415,65) (-0.39,79) (-0.365,66) (-0.34,66) (-0.315,48) (-0.29,44) (-0.265,29) (-0.24,26) (-0.215,13) (-0.19,10) (-0.165,5) (-0.14,3) (-0.115,2) (-0.09,1) (-0.065,0.8) (0,0)} \closedcycle;
\end{axis}
\begin{axis}[hax, at={(656pt,-1522pt)}, height=70pt, xmin=-0.6, xmax=0.4,
  xtick={-0.6,-0.4,-0.2,0,0.2,0.4}, xticklabels={−0.6,−0.4,−0.2,0,0.2,0.4}, title={Hours(t−3)}]
\addplot[hist] coordinates {(-0.42,0.8) (-0.35,1) (-0.329,2) (-0.308,3) (-0.287,5) (-0.266,11) (-0.245,14) (-0.224,26) (-0.203,29) (-0.182,44) (-0.161,49) (-0.14,67) (-0.119,68) (-0.098,75) (-0.077,64) (-0.056,68) (-0.035,50) (-0.014,46) (0.007,30) (0.028,25) (0.049,12) (0.07,10) (0.091,6) (0.112,4) (0.133,2) (0.154,1) (0.175,0.8) (0.25,0)} \closedcycle;
\end{axis}
\begin{axis}[hax, at={(931pt,-1522pt)}, height=70pt, xmin=-0.4, xmax=0.4,
  xtick={-0.4,-0.2,0,0.2,0.4}, xticklabels={−0.4,−0.2,0,0.2,0.4}, title={Hours(t−4)}]
\addplot[hist] coordinates {(-0.22,0.8) (-0.18,1) (-0.167,2) (-0.154,4) (-0.141,6) (-0.128,9) (-0.115,19) (-0.102,22) (-0.089,40) (-0.076,45) (-0.063,62) (-0.05,64) (-0.037,80) (-0.024,79) (-0.011,81) (0.002,66) (0.015,61) (0.028,43) (0.041,39) (0.054,23) (0.067,19) (0.08,10) (0.093,7) (0.106,3) (0.119,2) (0.132,1) (0.145,0.8) (0.22,0)} \closedcycle;
\end{axis}
\end{tikzpicture}
\end{document}
